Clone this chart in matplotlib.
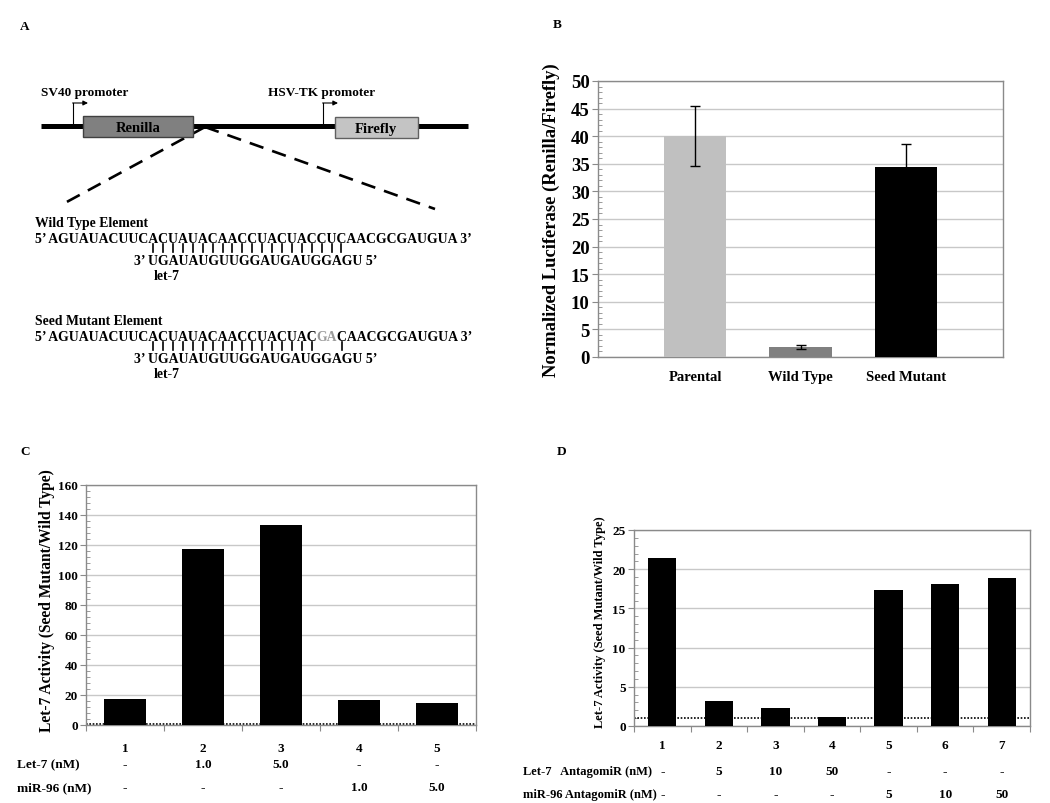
import matplotlib
matplotlib.use("Agg")
import matplotlib.pyplot as plt
import matplotlib.transforms as mtransforms
from matplotlib.font_manager import FontProperties
from matplotlib.patches import Rectangle
from matplotlib.ticker import MultipleLocator

plt.rcParams["font.family"] = "Liberation Serif"
plt.rcParams["font.weight"] = "bold"

W, H = 1050, 804

# ---------------------------------------------------------------- data
luc_cats = ["Parental", "Wild Type", "Seed Mutant"]
luc_vals = [40.0, 1.75, 34.5]
luc_errs = [5.45, 0.35, 4.0]
luc_cols = ["#c0c0c0", "#808080", "#000000"]

c_lanes = ["1", "2", "3", "4", "5"]
c_vals = [17.3, 117.2, 133.4, 16.9, 14.4]
c_let7 = ["-", "1.0", "5.0", "-", "-"]
c_mir96 = ["-", "-", "-", "1.0", "5.0"]

d_lanes = ["1", "2", "3", "4", "5", "6", "7"]
d_vals = [21.4, 3.15, 2.25, 1.15, 17.35, 18.05, 18.9]
d_let7 = ["-", "5", "10", "50", "-", "-", "-"]
d_mir96 = ["-", "-", "-", "-", "5", "10", "50"]

target_wt = "AGUAUACUUCACUAUACAACCUACUACCUCAACGCGAUGUA"
target_mut = "AGUAUACUUCACUAUACAACCUACUACGACAACGCGAUGUA"
let7_seq = "UGAUAUGUUGGAUGAUGGAGU"
pairs_wt = list(range(10, 30))
pairs_mut = list(range(10, 27)) + [29]
mut_span = (27, 29)   # nucleotides shown in grey

fig = plt.figure(figsize=(W / 100, H / 100), dpi=100)
fig.patch.set_facecolor("white")


def box(x0, y0, x1, y1):
    return [x0 / W, 1 - y1 / H, (x1 - x0) / W, (y1 - y0) / H]


# overlay in pixel coordinates (panel A + free texts)
ov = fig.add_axes([0, 0, 1, 1])
ov.set_xlim(0, W)
ov.set_ylim(H, 0)
ov.axis("off")
ov.patch.set_alpha(0)

for lab, x, y in [("A", 20, 27), ("B", 553, 25), ("C", 20, 452), ("D", 557, 452)]:
    ov.text(x, y, lab, fontsize=9.5, va="center", ha="left")

# ---------------------------------------------------------------- panel A
ov.plot([41, 468], [127, 127], color="black", lw=3.6, solid_capstyle="butt", zorder=2)
ov.add_patch(Rectangle((83, 117), 110, 21, fc="#808080", ec="#404040", lw=1, zorder=3))
ov.add_patch(Rectangle((335, 118), 83, 21, fc="#c4c4c4", ec="#606060", lw=1, zorder=3))
ov.text(138, 128, "Renilla", fontsize=10.5, ha="center", va="center", zorder=4)
ov.text(376, 129, "Firefly", fontsize=10.5, ha="center", va="center", zorder=4)
ov.text(41, 96, "SV40 promoter", fontsize=9.5, ha="left", va="baseline")
ov.text(268, 96, "HSV-TK promoter", fontsize=9.5, ha="left", va="baseline")
for px in (73, 323):
    ov.plot([px, px], [127, 104], color="black", lw=0.8)
    ov.annotate("", xy=(px + 15, 104), xytext=(px - 0.4, 104),
                arrowprops=dict(arrowstyle="-|>", color="black", lw=0.8,
                                mutation_scale=7, shrinkA=0, shrinkB=0))
ov.plot([205, 63], [128, 205], color="black", lw=1.9, ls=(0, (5.5, 3.5)))
ov.plot([205, 435], [128, 210], color="black", lw=1.9, ls=(0, (5.5, 3.5)))

SEQ_FS = 9.9
fp = FontProperties(family="Liberation Serif", weight="bold", size=SEQ_FS)
rend = fig.canvas.get_renderer()


def tw(s):
    return rend.get_text_width_height_descent(s, fp, ismath=False)[0]


def ink_left(s, k):
    return tw(s[:k + 1]) - tw(s[k])


def center(s, k):
    return tw(s[:k + 1]) - tw(s[k]) / 2


def element(title, target, pairs, y0, grey=None):
    x0 = 35
    full = "5\u2019 " + target + " 3\u2019"
    ov.text(x0, y0 - 16, title, fontsize=SEQ_FS, ha="left", va="baseline")
    if grey is None:
        ov.text(x0, y0, full, fontproperties=fp, ha="left", va="baseline")
    else:
        a, b = grey[0] + 3, grey[1] + 3
        ov.text(x0, y0, full[:a], fontproperties=fp, ha="left", va="baseline")
        ov.text(x0 + ink_left(full, a), y0, full[a:b], fontproperties=fp,
                ha="left", va="baseline", color="#9a9a9a")
        ov.text(x0 + ink_left(full, b), y0, full[b:], fontproperties=fp,
                ha="left", va="baseline")
    for i in pairs:
        cx = x0 + center(full, i + 3)
        ov.plot([cx, cx], [y0 + 2, y0 + 10], color="black", lw=1.2)
    mir = "3\u2019 " + let7_seq + " 5\u2019"
    mx = x0 + center(full, pairs[0] + 3) - center(mir, 3)
    ov.text(mx, y0 + 22, mir, fontproperties=fp, ha="left", va="baseline")
    ov.text(mx + 19, y0 + 37, "let-7", fontproperties=fp, ha="left", va="baseline")


element("Wild Type Element", target_wt, pairs_wt, 243)
element("Seed Mutant Element", target_mut, pairs_mut, 341, grey=mut_span)

GRID = "#c8c8c8"
SPINE = "#8a8a8a"


def style(ax, ymax, major, minor, lab_fs):
    ax.set_ylim(0, ymax)
    ax.yaxis.set_major_locator(MultipleLocator(major))
    ax.yaxis.set_minor_locator(MultipleLocator(minor))
    ax.grid(axis="y", which="major", color=GRID, lw=1, zorder=0)
    ax.set_axisbelow(True)
    for sp in ax.spines.values():
        sp.set_color(SPINE)
        sp.set_linewidth(1)
    ax.tick_params(axis="y", which="major", direction="out", length=4,
                   color=SPINE, labelsize=lab_fs, pad=2)
    ax.tick_params(axis="y", which="minor", direction="in", length=3, color=SPINE)
    for t in ax.get_yticklabels():
        t.set_fontweight("bold")


# ---------------------------------------------------------------- panel B
axB = fig.add_axes(box(598, 82, 1003, 358))
xb = range(len(luc_cats))
axB.bar(xb, luc_vals, width=0.59, color=luc_cols, zorder=3)
axB.errorbar(xb, luc_vals, yerr=luc_errs, fmt="none", ecolor="black",
             elinewidth=1, capsize=3.5, capthick=1, zorder=4)
axB.set_xlim(-0.92, 2.92)
style(axB, 50, 5, 1, 13.5)
axB.set_xticks([])
for x, c in zip(xb, luc_cats):
    axB.text(x, -3.6, c, ha="center", va="center", fontsize=10.5)
ov.text(551, 220, "Normalized Luciferase (Renilla/Firefly)", rotation=90,
        ha="center", va="center", fontsize=13.4)


# ---------------------------------------------------------------- panels C/D
def lane_panel(ax, vals, lanes, row1, row2, ymax, major, minor, ynum, yr1, yr2, bw):
    n = len(vals)
    xs = range(1, n + 1)
    ax.bar(xs, vals, width=bw, color="black", zorder=3)
    ax.axhline(1, color="black", lw=1.2, ls=(0, (1, 1)), zorder=2)
    ax.set_xlim(0.5, n + 0.5)
    style(ax, ymax, major, minor, 9.5)
    ax.set_xticks([i + 0.5 for i in range(n + 1)])
    ax.set_xticklabels([])
    ax.tick_params(axis="x", direction="out", length=4, color=SPINE)
    tr = mtransforms.blended_transform_factory(ax.transData, ov.transData)
    for x, a, b, c in zip(xs, lanes, row1, row2):
        ax.text(x, ynum, a, transform=tr, ha="center", va="center", fontsize=9.5)
        ax.text(x, yr1, b, transform=tr, ha="center", va="center", fontsize=9.5)
        ax.text(x, yr2, c, transform=tr, ha="center", va="center", fontsize=9.5)


axC = fig.add_axes(box(86, 486, 476, 726))
lane_panel(axC, c_vals, c_lanes, c_let7, c_mir96, 160, 20, 4, 749, 765, 788, 0.55)
ov.text(17, 765, "Let-7 (nM)", fontsize=9.5, ha="left", va="center")
ov.text(17, 788, "miR-96 (nM)", fontsize=9.5, ha="left", va="center")
ov.text(47, 601, "Let-7 Activity (Seed Mutant/Wild Type)", rotation=90,
        ha="center", va="center", fontsize=11.2)

axD = fig.add_axes(box(634, 531, 1030, 727))
lane_panel(axD, d_vals, d_lanes, d_let7, d_mir96, 25, 5, 1, 746, 772, 795, 0.5)
ov.text(523, 772, "Let-7   AntagomiR (nM)", fontsize=9, ha="left", va="center")
ov.text(523, 795, "miR-96 AntagomiR (nM)", fontsize=9, ha="left", va="center")
ov.text(600, 622, "Let-7 Activity (Seed Mutant/Wild Type)", rotation=90,
        ha="center", va="center", fontsize=9)

fig.savefig("out.png", dpi=100, facecolor="white")
